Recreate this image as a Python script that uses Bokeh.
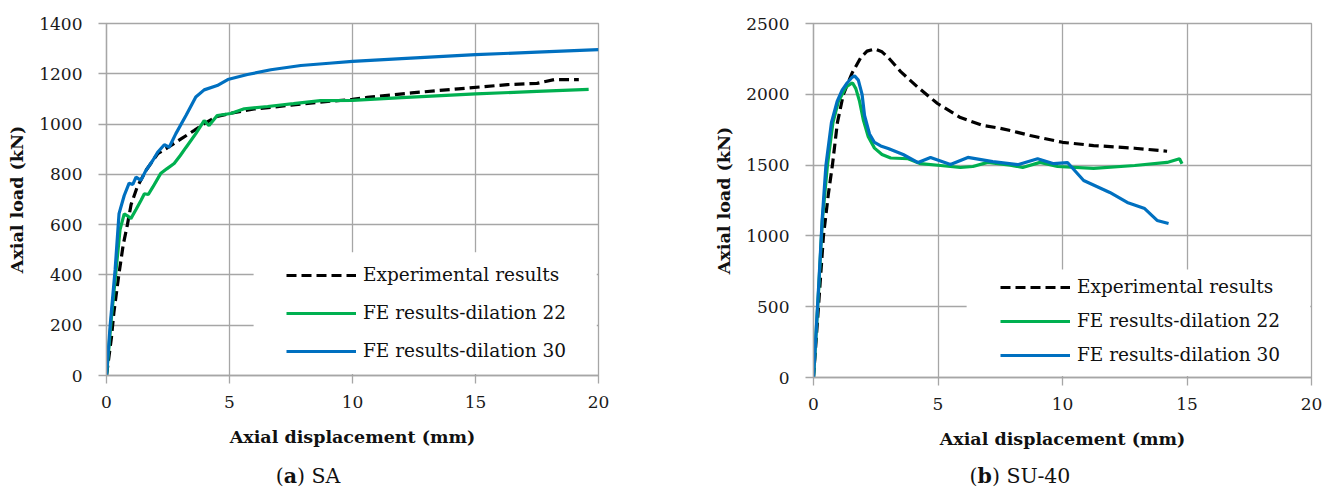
from bokeh.plotting import figure
from bokeh.layouts import row, column
from bokeh.models import (Range1d, FixedTicker, Legend, LegendItem, BoxAnnotation, Div)
from bokeh.embed import file_html
from bokeh.resources import INLINE

# ---- Specimen SA: axial load (kN) vs axial displacement (mm) ----
sa_exp_x = [0, 0.2, 0.3, 0.5, 0.68, 0.85, 1.0, 1.25, 1.6, 2.08, 2.5, 3.03, 3.57, 3.97, 4.5, 5.0,
            6.0, 7.5, 9.0, 10.0, 10.6, 12.4, 14.3, 16.3, 17.5, 18.2, 19.2]
sa_exp_y = [0, 150, 250, 400, 520, 600, 680, 750, 815, 882, 907, 941, 975, 1002, 1030, 1042,
            1060, 1075, 1090, 1098, 1106, 1124, 1140, 1157, 1162, 1177, 1177]

sa_d22_x = [0, 0.2, 0.4, 0.55, 0.72, 0.85, 0.99, 1.2, 1.4, 1.54, 1.7, 1.88, 2.2, 2.45, 2.75, 3.0,
            3.23, 3.63, 3.97, 4.17, 4.5, 5.05, 5.6, 6.55, 7.6, 8.7, 10.0, 12.0, 15.0, 17.5, 19.6]
sa_d22_y = [0, 230, 430, 580, 643, 635, 624, 660, 696, 723, 720, 749, 803, 822, 843, 875,
            907, 962, 1014, 994, 1034, 1042, 1061, 1070, 1081, 1093, 1094, 1105, 1120, 1130, 1138]

sa_d30_x = [0, 0.15, 0.35, 0.51, 0.72, 0.92, 1.07, 1.2, 1.4, 1.6, 1.88, 2.08, 2.35, 2.55, 2.82,
            3.23, 3.63, 3.97, 4.5, 4.93, 5.73, 6.68, 7.9, 9.05, 10.0, 12.0, 15.0, 17.5, 20.0]
sa_d30_y = [0, 200, 420, 644, 716, 765, 760, 789, 776, 815, 855, 888, 918, 908, 962,
            1034, 1108, 1136, 1153, 1177, 1197, 1216, 1233, 1242, 1249, 1260, 1276, 1286, 1296]

# ---- Specimen SU-40 ----
su_exp_x = [0, 0.2, 0.4, 0.6, 0.76, 0.96, 1.2, 1.55, 1.9, 2.15, 2.45, 2.75, 3.0, 3.5, 4.2, 4.98,
            5.9, 6.8, 7.5, 7.9, 8.7, 10.0, 11.25, 12.9, 14.2]
su_exp_y = [0, 500, 1000, 1300, 1500, 1800, 2000, 2150, 2260, 2305, 2320, 2300, 2260, 2160, 2048, 1935,
            1836, 1780, 1760, 1744, 1709, 1661, 1638, 1619, 1598]

su_d22_x = [0, 0.2, 0.35, 0.56, 0.78, 1.0, 1.3, 1.5, 1.57, 1.7, 1.85, 2.0, 2.2, 2.45, 2.75, 3.1,
            3.8, 4.3, 5.1, 5.9, 6.4, 7.0, 7.9, 8.4, 9.1, 9.8, 11.25, 12.9, 14.2, 14.7, 14.8]
su_d22_y = [0, 600, 1100, 1500, 1800, 1950, 2050, 2075, 2080, 2040, 1950, 1820, 1700, 1620, 1575, 1550,
            1545, 1510, 1497, 1483, 1490, 1519, 1500, 1483, 1519, 1490, 1477, 1497, 1519, 1545, 1510]

su_d30_x = [0, 0.2, 0.35, 0.5, 0.72, 0.95, 1.15, 1.35, 1.55, 1.65, 1.8, 1.95, 2.05, 2.25, 2.45, 2.7,
            3.0, 3.6, 4.2, 4.7, 5.5, 6.2, 7.2, 8.2, 9.0, 9.65, 10.2, 10.85, 11.9, 12.6, 13.3, 13.8, 14.26]
su_d30_y = [0, 620, 1120, 1500, 1800, 1950, 2030, 2080, 2120, 2130, 2100, 2000, 1850, 1720, 1660, 1635,
            1617, 1575, 1518, 1554, 1504, 1554, 1525, 1503, 1545, 1510, 1518, 1391, 1307, 1236, 1193, 1109, 1088]

x_ticks = [0, 5, 10, 15, 20]
sa_y_ticks = [0, 200, 400, 600, 800, 1000, 1200, 1400]
su_y_ticks = [0, 500, 1000, 1500, 2000, 2500]

series_names = ["Experimental results", "FE results-dilation 22", "FE results-dilation 30"]

FONT = "DejaVu Serif"
GRID = "#a6a6a6"
GREEN = "#00b050"
BLUE = "#0070c0"
CAPTION_H = 24


def make_panel(width, b_left, b_right, b_bottom, y_max, y_ticks, curves, box, legend_loc,
               legend_spacing):
    p = figure(width=width, height=488 - CAPTION_H, output_backend="svg", toolbar_location=None,
               x_range=Range1d(0, 20), y_range=Range1d(0, y_max),
               min_border_left=b_left, min_border_right=b_right,
               min_border_top=23, min_border_bottom=b_bottom - CAPTION_H)
    p.outline_line_color = GRID
    p.outline_line_width = 1.3
    p.background_fill_color = "white"
    p.border_fill_color = "white"

    for ax in (p.xaxis[0], p.yaxis[0]):
        ax.axis_line_color = GRID
        ax.axis_line_width = 1.3
        ax.major_tick_line_color = GRID
        ax.major_tick_line_width = 1.3
        ax.major_tick_out = 8
        ax.major_tick_in = 0
        ax.minor_tick_line_color = None
        ax.major_label_text_font = FONT
        ax.major_label_text_font_size = "17px"
        ax.major_label_text_color = "#1a1a1a"
        ax.axis_label_text_font = FONT
        ax.axis_label_text_font_size = "17.5px"
        ax.axis_label_text_font_style = "bold"
        ax.axis_label_text_color = "#111111"

    p.xaxis.ticker = FixedTicker(ticks=x_ticks)
    p.yaxis.ticker = FixedTicker(ticks=y_ticks)
    p.xaxis.axis_label = "Axial displacement (mm)"
    p.yaxis.axis_label = "Axial load (kN)"
    p.xaxis.major_label_standoff = 12
    p.yaxis.major_label_standoff = 16
    p.xaxis.axis_label_standoff = 16
    p.yaxis.axis_label_standoff = 9

    for g in (p.xgrid[0], p.ygrid[0]):
        g.grid_line_color = GRID
        g.grid_line_width = 1.3

    (ex, ey), (gx, gy), (bx, by) = curves
    r_exp = p.line(ex, ey, line_color="black", line_width=3.2, line_dash="10 5")
    r_g = p.line(gx, gy, line_color=GREEN, line_width=3.2)
    r_b = p.line(bx, by, line_color=BLUE, line_width=3.2)

    # white panel behind the key, hiding the grid there
    p.add_layout(BoxAnnotation(left=box[0], right=box[1], bottom=box[2], top=box[3],
                               fill_color="white", fill_alpha=1.0, line_alpha=0))

    legend = Legend(items=[LegendItem(label=series_names[0], renderers=[r_exp]),
                           LegendItem(label=series_names[1], renderers=[r_g]),
                           LegendItem(label=series_names[2], renderers=[r_b])],
                    location=legend_loc, padding=0, margin=0, spacing=legend_spacing,
                    glyph_width=70, glyph_height=20, label_height=20, label_standoff=7,
                    label_text_font=FONT, label_text_font_size="18.5px",
                    label_text_color="#111111",
                    background_fill_alpha=0, border_line_alpha=0)
    p.add_layout(legend, "center")
    return p


def caption(letter, name, width, center):
    html = ("<span style=\"display:inline-block; width:240px; text-align:center; "
            "margin-left:%dpx; font-family:'DejaVu Serif', serif; font-size:20.5px; "
            "line-height:24px; color:#111111;\">(<b>%s</b>) %s</span>" % (center - 120, letter, name))
    return Div(text=html, width=width, height=CAPTION_H,
               styles={"margin": "0", "padding": "0", "white-space": "nowrap"})


left = make_panel(660, 106, 62, 113, 1400, sa_y_ticks,
                  [(sa_exp_x, sa_exp_y), (sa_d22_x, sa_d22_y), (sa_d30_x, sa_d30_y)],
                  (5.98, 19.93, 6, 490), (180, 14), 17)

right = make_panel(673, 153, 22, 111, 2500, su_y_ticks,
                   [(su_exp_x, su_exp_y), (su_d22_x, su_d22_y), (su_d30_x, su_d30_y)],
                   (6.15, 19.95, 10, 763), (187, 12), 13)

layout = row(column(left, caption("a", "SA", 660, 308)),
             column(right, caption("b", "SU-40", 673, 360)))
open("out.html", "w").write(file_html(layout, INLINE))
